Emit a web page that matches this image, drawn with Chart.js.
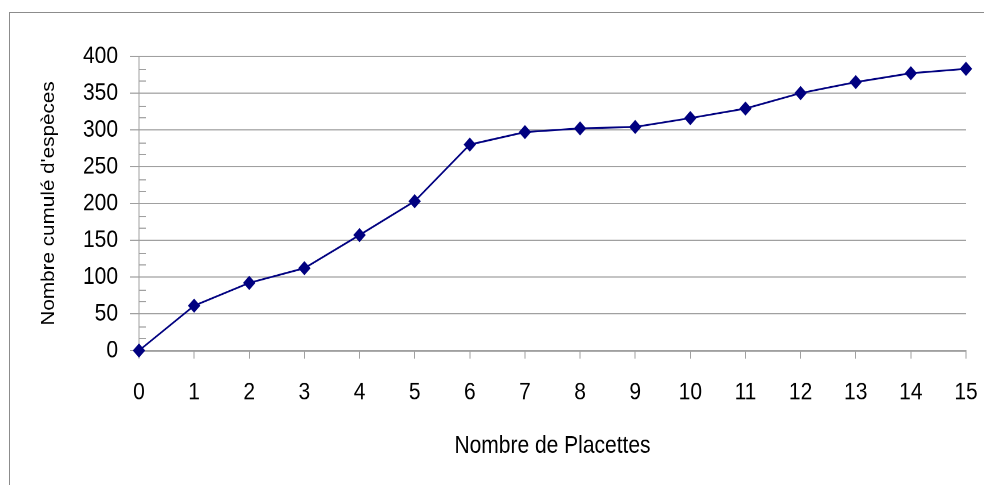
<!DOCTYPE html>
<html lang="fr">
<head>
<meta charset="utf-8">
<title>Nombre cumulé d'espèces</title>
<script src="https://cdn.jsdelivr.net/npm/chart.js@4/dist/chart.umd.min.js"></script>
<style>
    html, body { margin: 0; padding: 0; background: #ffffff; overflow: hidden; }
    /* The original picture is slightly stretched vertically, so the chart is drawn smaller and scaled up. */
    #cadre { position: absolute; left: 0; top: 0; width: 984px; height: 485px; }
    #bordure { position: absolute; left: 9px; top: 12px; right: 0; bottom: 0; border-top: 1px solid #8c8c8c; border-left: 1px solid #8c8c8c; }
    #especesGrafiks { position: absolute; left: 0; top: 0; transform-origin: 0 0; transform: scaleY(1.1493); }
</style>
</head>
<body>
<div id="cadre">
    <div id="bordure"></div>
    <canvas id="especesGrafiks" width="984" height="422"></canvas>
</div>
<script>
// X axis categories: number of plots.
const placettes = ["0", "1", "2", "3", "4", "5", "6", "7", "8", "9", "10", "11", "12", "13", "14", "15"];

// Cumulative number of species.
const especesCumulees = [0, 61, 92, 112, 157, 203, 280, 297, 302, 304, 316, 329, 350, 365, 377, 383];

// Y axis tick labels (major) and the minor tick values between them.
const graduationsY = [0, 50, 100, 150, 200, 250, 300, 350, 400];
const graduationsMineures = graduationsY.slice(0, -1).flatMap(v => [v + 50 / 3, v + 100 / 3]);

// Global chart object.
let especesGrafiks = null;

// Font used for all texts.
const police = "'Liberation Sans', Arial, sans-serif";

// Plugin that draws the small inside ticks on the y axis.
const petitesGraduations = {
    id: "petitesGraduations",
    beforeDatasetsDraw(chart) {
        const ctx = chart.ctx;
        const y = chart.scales.y;
        const gauche = chart.chartArea.left;
        ctx.save();
        ctx.strokeStyle = "#a0a0a0";
        ctx.lineWidth = 1;
        ctx.beginPath();
        for (const v of graduationsMineures) {
            const py = Math.round(y.getPixelForValue(v)) + 0.5;
            ctx.moveTo(gauche, py);
            ctx.lineTo(gauche + 7, py);
        }
        ctx.stroke();
        ctx.restore();
    }
};

// Draws the chart.
function uzzimetGrafiku() {
    const canvas = document.getElementById("especesGrafiks");
    const konteksts = canvas.getContext("2d");

    if (especesGrafiks) {
        especesGrafiks.destroy();
    }

    especesGrafiks = new Chart(konteksts, {
        type: "line",
        data: {
            labels: placettes,
            datasets: [
                {
                    label: "Nombre cumulé d'espèces",
                    data: especesCumulees,
                    borderColor: "#000080",
                    backgroundColor: "#000080",
                    borderWidth: 1.6,
                    fill: false,
                    tension: 0,
                    pointStyle: "rectRot",
                    pointRadius: 5.5,
                    pointBorderWidth: 1,
                    pointBorderColor: "#000080",
                    pointBackgroundColor: "#000080",
                    clip: false
                }
            ]
        },
        plugins: [petitesGraduations],
        options: {
            responsive: false,
            devicePixelRatio: 2,
            animation: false,
            layout: { padding: { top: 49, right: 18, bottom: 0, left: 0 } },
            plugins: {
                legend: { display: false },
                tooltip: { enabled: false }
            },
            scales: {
                x: {
                    type: "category",
                    offset: false,
                    // Fixed height, and no extra side padding for the end labels.
                    afterFit(scale) {
                        scale.height = 117;
                        scale.paddingLeft = 0;
                        scale.paddingRight = 0;
                    },
                    grid: { drawOnChartArea: false, drawTicks: true, tickLength: 7, color: "#a0a0a0" },
                    border: { display: true, color: "#a0a0a0", width: 1.5 },
                    ticks: {
                        color: "#000000",
                        padding: 17,
                        maxRotation: 0,
                        autoSkip: false,
                        font: { family: police, size: 21 }
                    },
                    title: {
                        display: true,
                        text: "Nombre de Placettes",
                        color: "#000000",
                        padding: { top: 0, bottom: 21 },
                        font: { family: police, size: 21 }
                    }
                },
                y: {
                    min: 0,
                    max: 400,
                    afterFit(scale) { scale.width = 139; },
                    afterBuildTicks(scale) { scale.ticks = graduationsY.map(v => ({ value: v })); },
                    grid: { drawOnChartArea: true, drawTicks: true, tickLength: 9, color: "#a0a0a0", lineWidth: 1 },
                    border: { display: true, color: "#a0a0a0", width: 1 },
                    ticks: {
                        color: "#000000",
                        padding: 12,
                        font: { family: police, size: 21 }
                    },
                    title: {
                        display: true,
                        text: "Nombre cumulé d'espèces",
                        color: "#000000",
                        padding: { top: 38, bottom: 0 },
                        font: { family: police, size: 18 }
                    }
                }
            }
        }
    });
}

document.addEventListener("DOMContentLoaded", () => {
    uzzimetGrafiku();
});
</script>
</body>
</html>
